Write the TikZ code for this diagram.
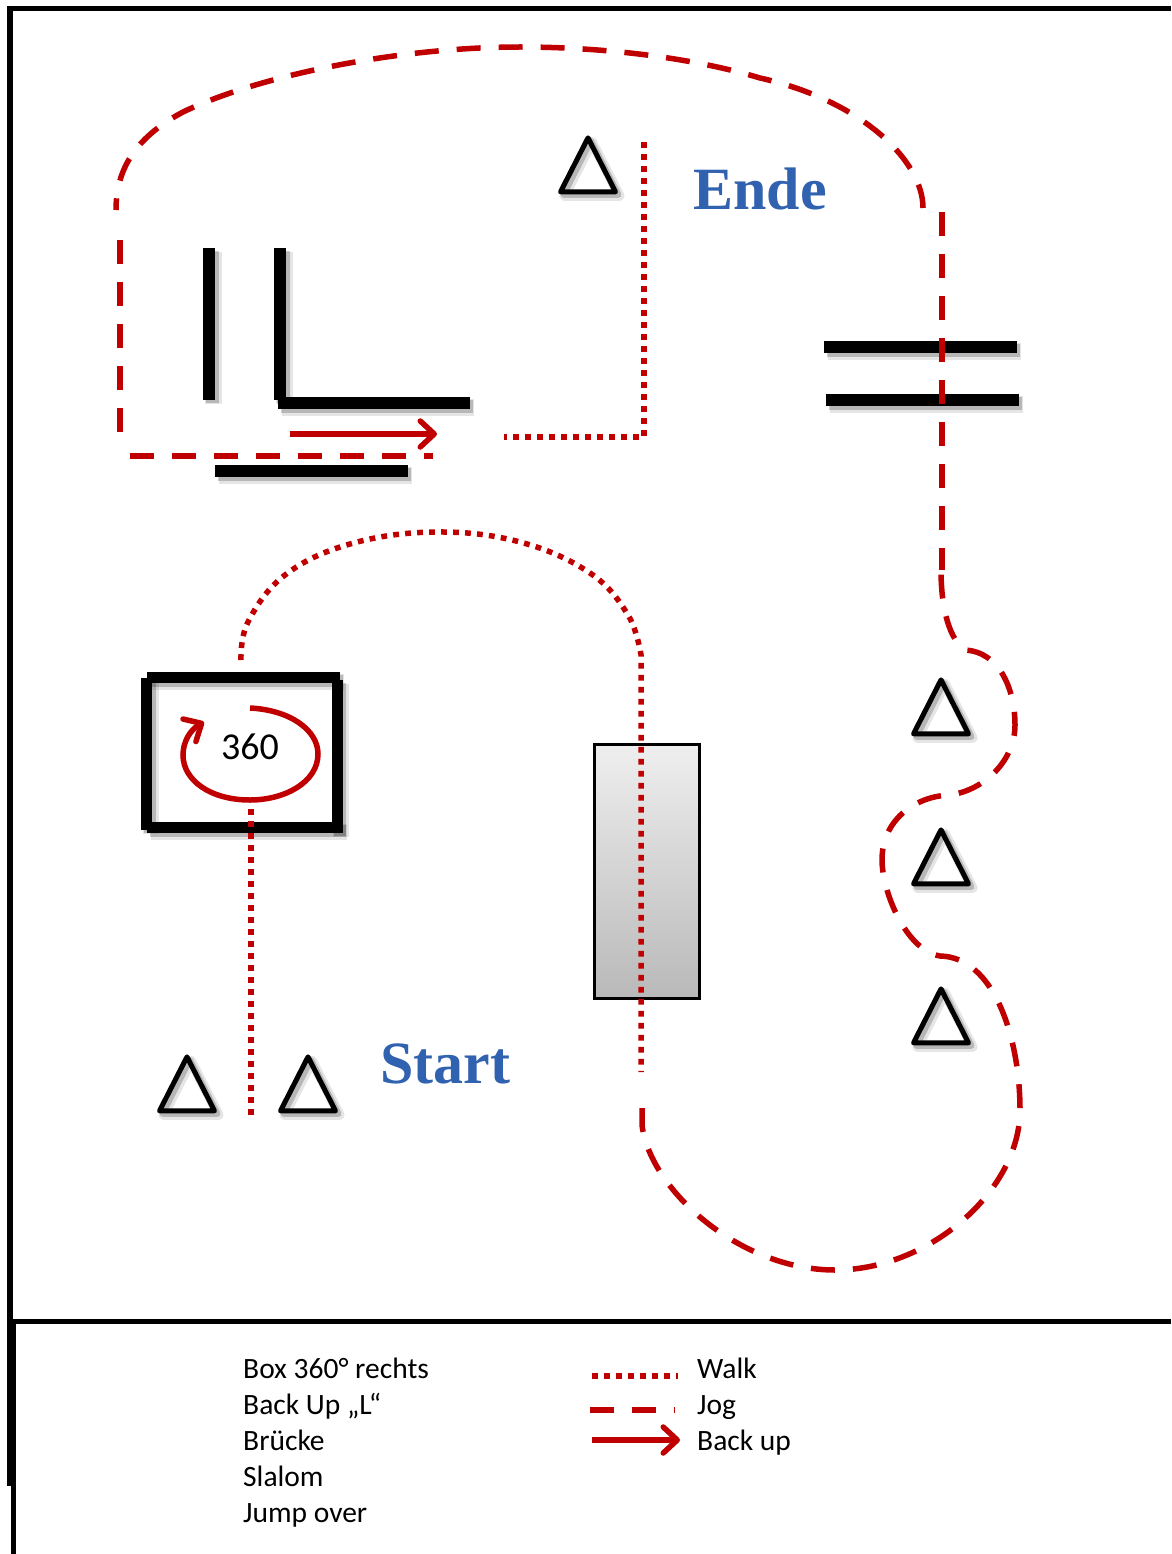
\documentclass[tikz,border=0pt]{standalone}
\usepackage{fontspec}
\setmainfont{Carlito}
\newfontfamily\titlefont{Liberation Serif}[Scale=1]
\usepackage{xcolor}
\usetikzlibrary{shapes.geometric, arrows.meta, positioning}
\definecolor{route}{RGB}{192,0,0}
\definecolor{titleblue}{RGB}{48,98,176}
\tikzset{
    shadowed/.style={
        preaction={draw=black, draw opacity=.10, line width=#1+5pt, transform canvas={shift={(4pt,-4pt)}}},
        preaction={draw=black, draw opacity=.20, line width=#1+1pt, transform canvas={shift={(3pt,-3pt)}}}},
    bar/.style={line width=12pt, black, shadowed=12pt},
    boxbar/.style={line width=11pt, black, shadowed=11pt},
    frameline/.style={line width=5pt, black},
    cone/.style={isosceles triangle, isosceles triangle stretches, shape border rotate=90, minimum width=55pt, minimum height=54pt, inner sep=0pt, draw, line width=5pt, line join=round, shadowed=5pt},
    walk/.style={route, line width=5.5pt, dash pattern=on 5.8pt off 6.2pt},
    jog/.style={route, line width=5.5pt, dash pattern=on 24pt off 18pt},
    backup/.style={route, line width=5.5pt, -{Straight Barb[length=14pt, width=26pt, line width=5.5pt, round]}},
    legend/.style={anchor=base west, inner sep=0pt, font=\fontsize{29.5}{34}\selectfont},
    title/.style={anchor=center, inner sep=0pt, text=titleblue, font=\titlefont\bfseries\fontsize{60}{70}\selectfont}
}
\begin{document}
\begin{tikzpicture}[x=1pt, y=-1pt]
    \useasboundingbox (0,0) rectangle (1171,1554);

    % Frame
    \draw[frameline] (7,9) -- (1171,9);
    \draw[line width=5.5pt] (10,9) -- (10,1486);
    \draw[frameline] (12,1321) -- (1171,1321);
    \draw[frameline] (13,1321) -- (13,1554);

    % Cones
    \node[cone] (coneEnd) at (588,175) {};
    \node[cone] (coneA) at (941,717) {};
    \node[cone] (coneB) at (941,867) {};
    \node[cone] (coneC) at (941,1026) {};
    \node[cone] (coneL) at (187,1094) {};
    \node[cone] (coneR) at (308,1094) {};

    % Back up L
    \draw[bar] (209,248) -- (209,400);
    \draw[bar] (280,248) -- (280,400);
    \draw[bar] (278,403) -- (470,403);
    \draw[bar] (215,471) -- (408,471);

    % Jump over
    \draw[bar] (824,347) -- (1017,347);
    \draw[bar] (826,400) -- (1019,400);

    % Box 360
    \draw[boxbar] (147,677.5) -- (340,677.5);
    \draw[boxbar] (146.5,678) -- (146.5,830);
    \draw[boxbar] (337,680) -- (337,833);
    \draw[boxbar] (147,827.5) -- (343,827.5);
    \node[font=\fontsize{38}{44}\selectfont, inner sep=0pt] (boxlabel) at (250,747) {360};

    % Bridge
    \node[draw, line width=3pt, minimum width=105pt, minimum height=254pt, inner sep=0pt, top color=gray!13, bottom color=gray!55] (bridge) at (647,871.5) {};

    % Titles
    \node[title] (ende) at (760,189) {Ende};
    \node[title] (start) at (445,1064) {Start};

    % Walk
    \draw[walk] (251,1115) -- (251,806);
    \draw[walk] plot[smooth, tension=.65] coordinates {(241,660) (248,622) (285,575) (350,544) (435,532) (520,542) (590,573) (628,615) (641,655)} -- (641,1072);
    \draw[walk] (644,142) -- (644,437) -- (504,437);

    % Jog
    \draw[jog] (642,1108) -- (642,1125) .. controls (650,1190) and (740,1270) .. (835,1270) .. controls (930,1270) and (1020,1190) .. (1020,1110) .. controls (1020,1040) and (995,957) .. (940,956) .. controls (905,950) and (882,890) .. (882,860) .. controls (882,820) and (915,796) .. (950,795) .. controls (985,790) and (1015,760) .. (1015,725) .. controls (1015,690) and (1000,652) .. (965,650) .. controls (950,640) and (941,610) .. (941,570);
    \draw[jog] (942,212) -- (942,570);
    \draw[jog] (923,208) .. controls (923,160) and (860,100) .. (760,78) .. controls (690,57) and (600,47) .. (520,47) .. controls (400,47) and (260,75) .. (183,112) .. controls (140,135) and (116,165) .. (116,210);
    \draw[jog] (120,240) -- (120,433);
    \draw[jog] (130,456) -- (433,456);

    % Back up and turn
    \draw[backup] (290,434) -- (437,434);
    \draw[backup] (250,708) .. controls (290,710) and (318,730) .. (318,754) .. controls (318,782) and (285,800) .. (250,800) .. controls (210,800) and (183,780) .. (183,755) .. controls (183,742) and (190,730) .. (204,722);

    % Legend
    \node[legend] (leg1) at (243,1378) {Box 360° rechts};
    \node[legend] (leg2) at (243,1414) {Back Up „L“};
    \node[legend] (leg3) at (243,1450) {Brücke};
    \node[legend] (leg4) at (243,1486) {Slalom};
    \node[legend] (leg5) at (243,1522) {Jump over};
    \node[legend] (walklabel) at (697,1378) {Walk};
    \node[legend] (joglabel) at (697,1414) {Jog};
    \node[legend] (backlabel) at (697,1450) {Back up};
    \coordinate (walkstart) at (592,1376);
    \coordinate (walkend) at (678,1376);
    \coordinate (jogstart) at (590,1410);
    \coordinate (jogend) at (675,1410);
    \coordinate (backstart) at (592,1440);
    \coordinate (backend) at (680,1440);
    \draw[walk] (walkstart) -- (walkend);
    \draw[jog] (jogstart) -- (jogend);
    \draw[backup] (backstart) -- (backend);
\end{tikzpicture}
\end{document}
